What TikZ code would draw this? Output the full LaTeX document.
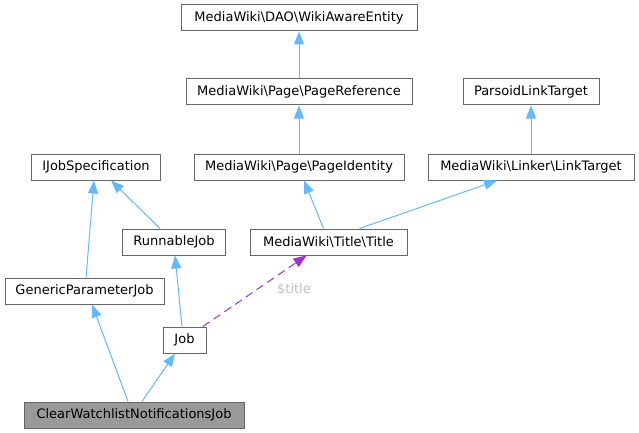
\documentclass[tikz,border=0pt]{standalone}
\usepackage{fontspec}
\setmainfont{DejaVu Sans}
\usetikzlibrary{arrows.meta}
\definecolor{edgeblue}{HTML}{63B8FF}
\definecolor{edgepurple}{HTML}{9A32CD}
\definecolor{boxborder}{HTML}{666666}
\definecolor{boxgray}{HTML}{999999}
\definecolor{labelgray}{HTML}{BEBEBE}
\begin{document}
\begin{tikzpicture}[x=1pt,y=-1pt,
  cls/.style={draw=boxborder, line width=1pt, fill=white, inner sep=0pt, font=\fontsize{13}{15}\selectfont, text=black, minimum height=26pt},
  cur/.style={cls, fill=boxgray},
  inh/.style={draw=edgeblue, line width=1pt, -{Triangle[width=10pt,length=13pt]}},
  use/.style={draw=edgepurple, line width=1pt, dash pattern=on 8pt off 5pt, -{Triangle[width=10pt,length=13pt]}}]
\useasboundingbox (0,0) rectangle (639,433);
\node[cls, minimum width=236pt] (wae) at (299,18) {MediaWiki\textbackslash DAO\textbackslash WikiAwareEntity};
\node[cls, minimum width=226pt] (pref) at (299,92) {MediaWiki\textbackslash Page\textbackslash PageReference};
\node[cls, minimum width=136pt] (plt) at (531,92) {ParsoidLinkTarget};
\node[cls, minimum width=129pt] (ijs) at (96,167) {IJobSpecification};
\node[cls, minimum width=210pt] (pid) at (299,167) {MediaWiki\textbackslash Page\textbackslash PageIdentity};
\node[cls, minimum width=206pt] (lt) at (531,167) {MediaWiki\textbackslash Linker\textbackslash LinkTarget};
\node[cls, minimum width=103pt] (rj) at (174,242) {RunnableJob};
\node[cls, minimum width=157pt] (title) at (328.5,242) {MediaWiki\textbackslash Title\textbackslash Title};
\node[cls, minimum width=159pt] (gpj) at (84.5,291) {GenericParameterJob};
\node[cls, minimum width=43pt] (job) at (184.5,340) {Job};
\node[cur, minimum width=220pt] (cwn) at (134,415) {ClearWatchlistNotificationsJob};
\node[text=labelgray, font=\fontsize{13}{15}\selectfont, inner sep=0pt] (lbl) at (294,290) {\$title};

\draw[inh] (pref.north) -- (wae.south);
\draw[inh] (pid.north) -- (pref.south);
\draw[inh] (lt.north) -- (plt.south);
\draw[inh] ([xshift=-5pt]title.north) -- ([xshift=5pt]pid.south);
\draw[inh] ([xshift=31pt]title.north) -- ([xshift=-34pt]lt.south);
\draw[inh] ([xshift=-14pt]rj.north) -- ([xshift=15pt]ijs.south);
\draw[inh] ([xshift=1.5pt]gpj.north) -- ([xshift=-2pt]ijs.south);
\draw[inh] ([xshift=-2.5pt]job.north) -- ([xshift=1pt]rj.south);
\draw[use] ([xshift=18.5pt]job.north) -- ([xshift=-22pt]title.south);
\draw[inh] ([xshift=-6pt]cwn.north) -- ([xshift=7.5pt]gpj.south);
\draw[inh] ([xshift=8pt]cwn.north) -- ([xshift=-9.5pt]job.south);
\end{tikzpicture}
\end{document}
